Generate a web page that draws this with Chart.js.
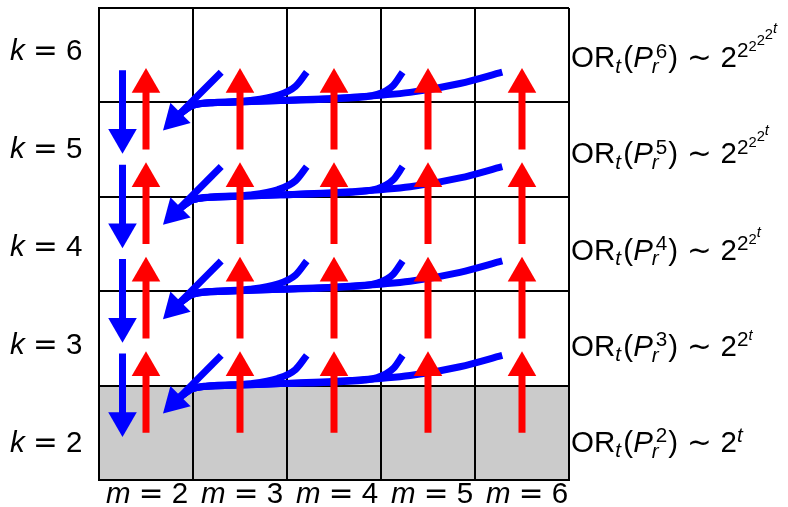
<!DOCTYPE html>
<html>
<head>
<meta charset="utf-8">
<script src="https://cdn.jsdelivr.net/npm/chart.js@4.4.1/dist/chart.umd.min.js"></script>
<style>
  html, body { margin: 0; padding: 0; background: #fff; }
</style>
</head>
<body>
<canvas id="towerChart" width="788" height="507"></canvas>
<script>
// columns (m) and rows (k, bottom to top)
const mValues = [2, 3, 4, 5, 6];
const kValues = [2, 3, 4, 5, 6];
// base case row that is shaded
const shadedK = [2];
// how many 2s in the tower 2^2^...^t for OR_t(P_r^k), per k
const towerTwos = [1, 2, 3, 4, 5];

// shape of the blue curve coming from column index c into the m=2 cell one row down
// x in grid units, y relative to the bottom of the starting row
const curveShapes = [
  null,
  [[1.30, 0.32], [0.85, -0.13]],
  [[2.21, 0.32], [2.09, 0.17], [1.90, 0.075], [1.61, 0.02], [1.23, 0.0], [1.0, -0.03], [0.85, -0.13]],
  [[3.23, 0.32], [3.13, 0.18], [2.96, 0.085], [2.56, 0.042], [1.93, 0.021], [1.34, 0.0], [1.0, -0.03], [0.85, -0.13]],
  [[4.29, 0.32], [3.84, 0.20], [3.31, 0.106], [2.67, 0.053], [1.93, 0.021], [1.34, 0.0], [1.0, -0.03], [0.85, -0.13]]
];

const RED = "#ff0000";
const BLUE = "#0000ff";
const HEAD_R = 16.5;
const FS = 29.5;
const SANS = "'Liberation Sans', Arial, sans-serif";
const MATH = "'DejaVu Sans', sans-serif";

// red "up" arrows: every column, from row k to k+1
const redShaft = [];
const redHeads = [];
mValues.forEach((m, c) => {
  kValues.slice(0, -1).forEach((k, j) => {
    redShaft.push({ x: c + 0.5, y: j + 0.5 }, { x: c + 0.5, y: j + 1.19 }, { x: c + 0.5, y: null });
    redHeads.push({ x: c + 0.5, y: j + 1.19 });
  });
});

// blue "down" arrows in column m=2
const blueShaft = [];
const blueHeads = [];
const blueRot = [];
kValues.slice(1).forEach((k, i) => {
  const j = i + 1;
  blueShaft.push({ x: 0.25, y: j + 0.34 }, { x: 0.25, y: j - 0.37 }, { x: 0.25, y: null });
  blueHeads.push({ x: 0.25, y: j - 0.37 });
  blueRot.push(180);
  // head of the curved arrows landing in m=2, row below
  blueHeads.push({ x: 0.805, y: j - 0.173 });
  blueRot.push(225);
});

const datasets = [];
kValues.slice(1).forEach((k, i) => {
  const j = i + 1;
  mValues.slice(1).forEach((m, ci) => {
    const shape = curveShapes[ci + 1];
    datasets.push({
      data: shape.map(p => ({ x: p[0], y: j + p[1] })),
      showLine: true,
      borderColor: BLUE,
      borderWidth: 7,
      borderCapStyle: "butt",
      cubicInterpolationMode: "monotone",
      pointRadius: 0,
      clip: false,
      order: 6,
    });
  });
});
datasets.push({
  data: blueShaft, showLine: true, borderColor: BLUE, borderWidth: 7,
  borderCapStyle: "butt", pointRadius: 0, spanGaps: false, clip: false, order: 5,
});
datasets.push({
  data: blueHeads, showLine: false, pointStyle: "triangle", pointRadius: HEAD_R,
  pointRotation: blueRot, pointBackgroundColor: BLUE, pointBorderWidth: 0, clip: false, order: 4,
});
datasets.push({
  data: redShaft, showLine: true, borderColor: RED, borderWidth: 7,
  borderCapStyle: "butt", pointRadius: 0, spanGaps: false, clip: false, order: 2,
});
datasets.push({
  data: redHeads, showLine: false, pointStyle: "triangle", pointRadius: HEAD_R,
  pointRotation: 0, pointBackgroundColor: RED, pointBorderWidth: 0, clip: false, order: 1,
});

function put(ctx, text, x, y, size, italic, family) {
  ctx.font = (italic ? "italic " : "") + size + "px " + (family || SANS);
  ctx.fillText(text, x, y);
  return ctx.measureText(text).width;
}

// grey base row, painted before the grid
const shadePlugin = {
  id: "shade",
  beforeDraw(chart) {
    const { ctx, scales: { x, y } } = chart;
    ctx.save();
    ctx.fillStyle = "#cbcbcb";
    shadedK.forEach(k => {
      const j = kValues.indexOf(k);
      const top = y.getPixelForValue(j + 1);
      const bot = y.getPixelForValue(j);
      const l = x.getPixelForValue(0);
      const r = x.getPixelForValue(mValues.length);
      ctx.fillRect(l, top, r - l, bot - top);
    });
    ctx.restore();
  },
};

const GAP = 0.28;

const labelPlugin = {
  id: "labels",
  afterDraw(chart) {
    const { ctx, scales: { x, y } } = chart;
    ctx.save();
    ctx.fillStyle = "#000";
    ctx.textAlign = "left";
    ctx.textBaseline = "alphabetic";

    kValues.forEach((k, j) => {
      const base = y.getPixelForValue(j + 0.5) + 19 - 3.5 * j;
      // left: k = n
      let cx = 10;
      cx += put(ctx, "k", cx, base, FS, true);
      cx += FS * GAP;
      cx += put(ctx, "=", cx, base, FS, false, MATH);
      cx += FS * GAP;
      put(ctx, String(k), cx, base, FS, false);

      // right: OR_t(P_r^k) ~ 2^2^...^t
      const b = base + 1.75 * j;
      cx = 571;
      cx += put(ctx, "OR", cx, b, FS, false);
      cx += put(ctx, "t", cx, b + 0.18 * FS, 0.7 * FS, true);
      cx += FS * 0.08;
      cx += put(ctx, "(", cx, b, FS, false);
      cx += put(ctx, "P", cx, b, FS, true);
      const w1 = put(ctx, String(k), cx + 3, b - 0.32 * FS, 0.7 * FS, false) + 3;
      const w2 = put(ctx, "r", cx - 1, b + 0.2 * FS, 0.7 * FS, true) - 1;
      cx += Math.max(w1, w2) + 1;
      cx += put(ctx, ")", cx, b, FS, false);
      cx += FS * 0.3;
      cx += put(ctx, "\u223C", cx, b, FS, false, MATH);
      cx += FS * 0.3;
      cx += put(ctx, "2", cx, b, FS, false);
      const n = towerTwos[j];
      let lift = 0;
      for (let lvl = 1; lvl <= n; lvl++) {
        const s = lvl === 1 ? 0.7 : 0.5;
        lift += lvl === 1 ? 0.33 * FS : 0.21 * FS;
        const last = lvl === n;
        cx += put(ctx, last ? "t" : "2", cx, b - lift, s * FS, last);
      }
    });

    // bottom: m = n
    mValues.forEach((m, c) => {
      const base = y.getPixelForValue(0) + 23;
      ctx.font = "italic " + FS + "px " + SANS;
      const wm = ctx.measureText("m").width;
      ctx.font = FS + "px " + MATH;
      const we = ctx.measureText("=").width;
      ctx.font = FS + "px " + SANS;
      const wn = ctx.measureText(String(m)).width;
      const total = wm + we + wn + FS * GAP * 2;
      let cx = x.getPixelForValue(c + 0.5) - total / 2 + 1 + c;
      cx += put(ctx, "m", cx, base, FS, true);
      cx += FS * GAP;
      cx += put(ctx, "=", cx, base, FS, false, MATH);
      cx += FS * GAP;
      put(ctx, String(m), cx, base, FS, false);
    });
    ctx.restore();
  },
};

const gridAxis = {
  type: "linear",
  min: 0,
  max: 5,
  ticks: { display: false, stepSize: 1 },
  grid: { color: "#000", lineWidth: 2, drawTicks: false, tickLength: 0 },
  border: { display: true, color: "#000", width: 2 },
};

const ctx = document.getElementById("towerChart").getContext("2d");
new Chart(ctx, {
  type: "scatter",
  data: { datasets: datasets },
  options: {
    responsive: false,
    animation: false,
    events: [],
    layout: { autoPadding: false, padding: { left: 99, right: 219, top: 8, bottom: 27 } },
    plugins: { legend: { display: false }, tooltip: { enabled: false } },
    scales: {
      x: Object.assign({}, gridAxis, { position: "bottom" }),
      y: Object.assign({}, gridAxis, { position: "left" }),
    },
  },
  plugins: [shadePlugin, labelPlugin],
});
</script>
</body>
</html>
